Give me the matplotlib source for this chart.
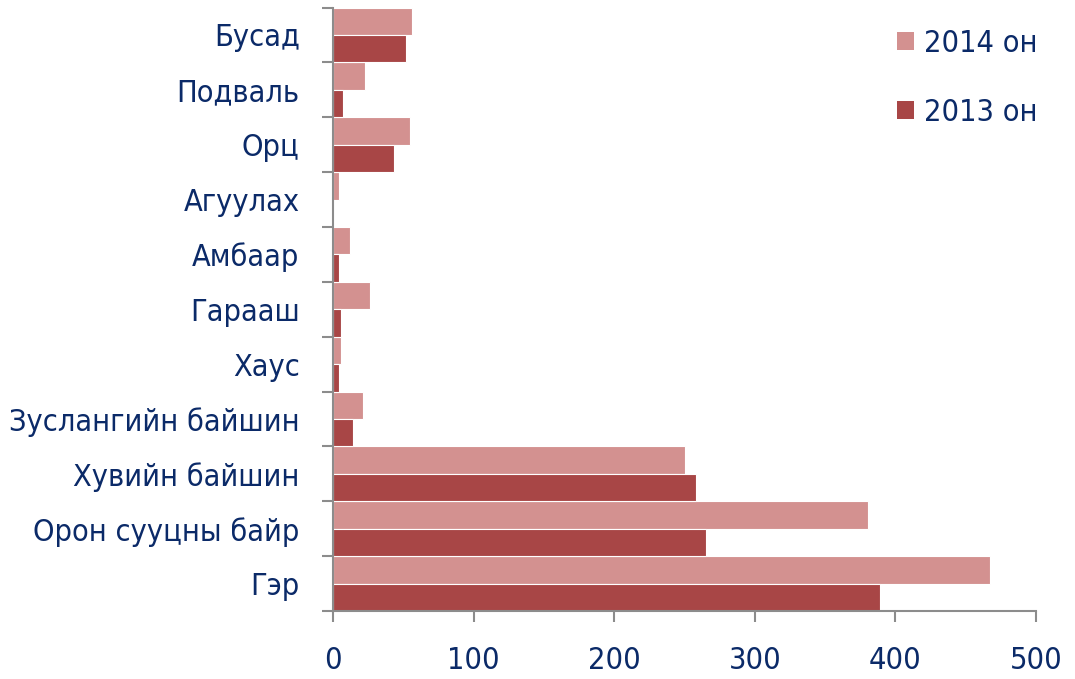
import matplotlib
matplotlib.use("Agg")
import matplotlib.pyplot as plt
import numpy as np
from matplotlib.patches import Patch

categories = ["Гэр", "Орон сууцны байр", "Хувийн байшин", "Зуслангийн байшин",
              "Хаус", "Гарааш", "Амбаар", "Агуулах", "Орц", "Подваль", "Бусад"]
values_2014 = [467, 380.5, 250.5, 21, 6, 26, 12, 4, 55, 23, 56]
values_2013 = [389, 265, 258, 14, 4.5, 6, 4.5, 0, 43.5, 7, 52]
series_labels = ["2014 он", "2013 он"]
xticks = [0, 100, 200, 300, 400, 500]

c14 = "#D39190"
c13 = "#A84646"
txt = "#0B2A68"
axc = "#8C8C8C"

plt.rcParams['font.family'] = ['DejaVu Sans']
plt.rcParams['font.stretch'] = 'condensed'
fs = 22

fig = plt.figure(figsize=(10.75, 6.79), dpi=100)
ax = fig.add_axes([333/1075, 1-611/679, (1036-333)/1075, (611-7.5)/679])

y = np.arange(len(categories))
h = 0.5
ax.barh(y + h/2, values_2014, height=h, color=c14, edgecolor="white", linewidth=0.8, label=series_labels[0])
ax.barh(y - h/2, values_2013, height=h, color=c13, edgecolor="white", linewidth=0.8, label=series_labels[1])

ax.set_ylim(-0.5, len(categories) - 0.5)
ax.set_xlim(0, 500)
ax.set_xticks(xticks)
ax.set_xticklabels([str(v) for v in xticks])
ax.set_yticks(y)
ax.set_yticklabels(categories)
ax.set_yticks(np.arange(len(categories) + 1) - 0.5, minor=True)

for s in ["top", "right"]:
    ax.spines[s].set_visible(False)
for s in ["left", "bottom"]:
    ax.spines[s].set_color(axc)
    ax.spines[s].set_linewidth(1.5)

ax.tick_params(axis="y", which="major", length=0, pad=24, labelsize=fs, labelcolor=txt)
ax.tick_params(axis="y", which="minor", length=8, width=1.5, color=axc, direction="out")
ax.tick_params(axis="x", which="major", length=8, width=1.5, color=axc, direction="out",
               pad=17, labelsize=fs, labelcolor=txt)

handles = [Patch(facecolor=c14, edgecolor="none"), Patch(facecolor=c13, edgecolor="none")]
leg = fig.legend(handles, series_labels, loc="upper left", bbox_to_anchor=(897/1075, 1-29/679),
                 frameon=False, fontsize=fs, labelcolor=txt, handlelength=0.55, handleheight=0.55,
                 handletextpad=0.35, labelspacing=1.3, borderaxespad=0, borderpad=0)

fig.savefig("out.png", dpi=100, facecolor="white")
